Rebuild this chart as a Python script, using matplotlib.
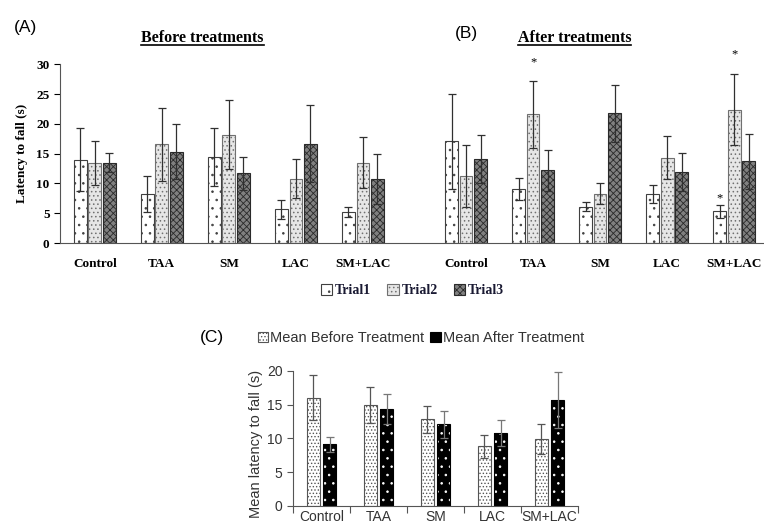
import numpy as np
import matplotlib.pyplot as plt
from matplotlib.patches import Patch

groups = ['Control', 'TAA', 'SM', 'LAC', 'SM+LAC']
trials = ['Trial1', 'Trial2', 'Trial3']

# rows = trials, columns = groups
before_mean = [[14.0, 8.2, 14.4, 5.7, 5.2],
               [13.5, 16.6, 18.2, 10.8, 13.5],
               [13.5, 15.3, 11.7, 16.7, 10.7]]
before_err = [[5.3, 3.0, 4.9, 1.6, 0.9],
              [3.7, 6.1, 5.8, 3.3, 4.3],
              [1.6, 4.6, 2.8, 6.4, 4.2]]
after_mean = [[17.1, 9.1, 6.1, 8.3, 5.3],
              [11.2, 21.6, 8.3, 14.3, 22.4],
              [14.1, 12.2, 21.8, 11.9, 13.7]]
after_err = [[8.0, 1.9, 0.8, 1.5, 1.1],
             [5.2, 5.6, 1.7, 3.6, 6.0],
             [4.0, 3.5, 4.8, 3.2, 4.6]]
stars_after = [(1, 1), (4, 0), (4, 1)]  # (group, trial) marked with *

mean_before = [16.0, 14.9, 12.8, 8.8, 9.9]
mean_before_err = [3.35, 2.7, 2.0, 1.65, 2.15]
mean_after = [9.1, 14.3, 12.1, 10.8, 15.7]
mean_after_err = [1.15, 2.2, 2.0, 1.9, 4.1]

plt.rcParams['hatch.linewidth'] = 0.6
serif = 'Liberation Serif'
sans = 'Liberation Sans'

fig = plt.figure(figsize=(7.64, 5.25), dpi=100)

# ---- panels A and B share one axis ----
ax = fig.add_axes([0.0785, 0.537, 0.9228, 0.3405])
x_before = np.arange(len(groups))
x_after = np.arange(len(groups)) + 5.54
w = 0.19
offs = [-0.215, 0.0, 0.215]
styles = [dict(facecolor='white', edgecolor='#404040', hatch='..'),
          dict(facecolor='#e6e6e6', edgecolor='#707070', hatch='....'),
          dict(facecolor='#808080', edgecolor='#2a2a2a', hatch='xxxxx')]

for i in range(3):
    for xs, vals, errs in [(x_before, before_mean[i], before_err[i]),
                           (x_after, after_mean[i], after_err[i])]:
        ax.bar(xs + offs[i], vals, w, linewidth=0.8, **styles[i])
        ax.errorbar(xs + offs[i], vals, yerr=errs, fmt='none', ecolor='#303030',
                    elinewidth=0.9, capsize=3, capthick=0.9)

star_gap = [2.2, 0.1, 2.2]
for (g, t), gap in zip(stars_after, star_gap):
    ax.text(x_after[g] + offs[t], after_mean[t][g] + after_err[t][g] + gap, '*',
            ha='center', va='bottom', fontsize=9, family=serif, clip_on=False)

ax.set_xlim(-0.52, 10.0)
ax.set_ylim(0, 30)
ax.set_yticks(range(0, 31, 5))
ax.set_xticks(np.concatenate([x_before, x_after]))
ax.set_xticklabels(groups + groups)
ax.tick_params(axis='x', length=0, pad=11)
ax.tick_params(axis='y', length=4, width=0.8)
for lab in ax.get_xticklabels() + ax.get_yticklabels():
    lab.set_fontfamily(serif)
    lab.set_fontweight('bold')
    lab.set_fontsize(9.5)
ax.spines['top'].set_visible(False)
ax.spines['right'].set_visible(False)
ax.spines['left'].set_color('#555555')
ax.spines['bottom'].set_color('#555555')
ax.set_ylabel('Latency to fall (s)', family=serif, fontweight='bold', fontsize=9.5)
ax.yaxis.set_label_coords(-0.045, 0.5)

titles = []
titles.append(fig.text(0.265, 0.927, 'Before treatments', ha='center', va='center',
                       family=serif, fontweight='bold', fontsize=11.5))
titles.append(fig.text(0.752, 0.927, 'After treatments', ha='center', va='center',
                       family=serif, fontweight='bold', fontsize=11.5))
fig.text(0.033, 0.948, '(A)', ha='center', va='center', family=sans, fontsize=12.5)
fig.text(0.611, 0.936, '(B)', ha='center', va='center', family=sans, fontsize=12.5)

# underline the titles
fig.canvas.draw()
renderer = fig.canvas.get_renderer()
for t in titles:
    bb = t.get_window_extent(renderer).transformed(fig.transFigure.inverted())
    fig.add_artist(plt.Line2D([bb.x0, bb.x1], [bb.y0 + 0.002, bb.y0 + 0.002],
                              color='black', lw=1.2, transform=fig.transFigure))

leg_handles = [Patch(linewidth=0.8, **styles[i]) for i in range(3)]
fig.legend(leg_handles, trials, loc='center', bbox_to_anchor=(0.54, 0.446), ncol=3,
           frameon=False, handlelength=0.8, handleheight=0.8, handletextpad=0.2,
           columnspacing=1.2, prop=dict(family=serif, weight='bold', size=10),
           labelcolor='#1a1a33')

# ---- panel C ----
axc = fig.add_axes([0.3835, 0.0362, 0.373, 0.2577])
xc = np.arange(len(groups))
wc = 0.235
axc.bar(xc - 0.145, mean_before, wc, facecolor='white', edgecolor='#555555',
        hatch='.....', linewidth=0.8)
axc.bar(xc + 0.145, mean_after, wc, facecolor='black', edgecolor='white',
        hatch='..', linewidth=0)
axc.bar(xc + 0.145, mean_after, wc, fill=False, edgecolor='black', linewidth=0.8)
axc.errorbar(xc - 0.145, mean_before, yerr=mean_before_err, fmt='none',
             ecolor='#555555', elinewidth=0.9, capsize=3, capthick=0.9)
axc.errorbar(xc + 0.145, mean_after, yerr=mean_after_err, fmt='none',
             ecolor='#777777', elinewidth=0.9, capsize=3, capthick=0.9)

axc.set_xlim(-0.5, 4.5)
axc.set_ylim(0, 20)
axc.set_yticks(range(0, 21, 5))
axc.set_xticks(np.arange(-0.5, 5, 1))
axc.set_xticklabels([])
axc.set_xticks(xc, minor=True)
axc.set_xticklabels(groups, minor=True)
axc.tick_params(axis='x', which='major', length=5, width=0.8, color='#555555')
axc.tick_params(axis='x', which='minor', length=0, pad=3)
axc.tick_params(axis='y', length=4, width=0.8, color='#555555')
for lab in axc.get_xticklabels(minor=True) + axc.get_yticklabels():
    lab.set_fontfamily(sans)
    lab.set_fontsize(10)
    lab.set_color('#333333')
for s in ['top', 'right']:
    axc.spines[s].set_visible(False)
for s in ['left', 'bottom']:
    axc.spines[s].set_color('#555555')
axc.set_ylabel('Mean latency to fall (s)', family=sans, fontsize=10.5, color='#333333')
axc.yaxis.set_label_coords(-0.105, 0.46)

fig.text(0.2775, 0.357, '(C)', ha='center', va='center', family=sans, fontsize=12.5)
c_handles = [Patch(facecolor='white', edgecolor='#555555', hatch='.....', linewidth=0.8),
             Patch(facecolor='black', edgecolor='black', linewidth=0.8)]
fig.legend(c_handles, ['Mean Before Treatment', 'Mean After Treatment'], loc='center',
           bbox_to_anchor=(0.551, 0.356), ncol=2, frameon=False, handlelength=0.7,
           handleheight=0.7, handletextpad=0.15, columnspacing=0.4,
           prop=dict(family=sans, size=10.5), labelcolor='#333333')

fig.savefig('out.png', dpi=100)
